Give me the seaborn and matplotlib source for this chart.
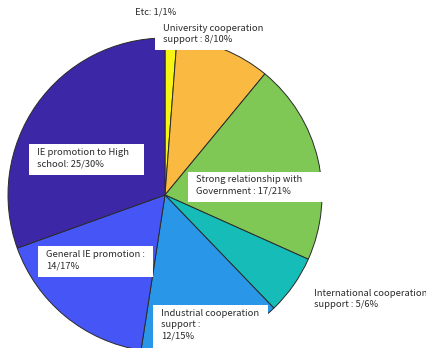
import matplotlib
matplotlib.use("Agg")
import matplotlib.pyplot as plt
import matplotlib.patches as mpatches
import seaborn as sns

# Survey responses: count and share per category, clockwise from 12 o'clock
categories = [
    "Etc",
    "University cooperation support",
    "Strong relationship with Government",
    "International cooperation support",
    "Industrial cooperation support",
    "General IE promotion",
    "IE promotion to High school",
]
counts = [1, 8, 17, 5, 12, 14, 25]
percents = [1, 10, 21, 6, 15, 17, 30]
slice_colors = ["#f6f514", "#fab941", "#80c855", "#16bdb8",
                "#2a96e8", "#4655f5", "#3c28a6"]

sns.set_style("white")
plt.rcParams["font.family"] = ["Noto Sans CJK KR", "DejaVu Sans"]

W, H = 427, 348
fig = plt.figure(figsize=(W / 100, H / 100), dpi=100)
ax = fig.add_axes([0, 0, 1, 1])

# pie geometry in pixels (centre, radius); the lower rim falls outside the canvas
cx, cy, r = 165, 195, 157
ax.pie(counts, colors=slice_colors, startangle=90, counterclock=False,
       radius=1, center=(0, 0),
       wedgeprops=dict(edgecolor="#2a2a2a", linewidth=0.7))
ax.set_xlim(-cx / r, (W - cx) / r)
ax.set_ylim(-(H - cy) / r, cy / r)
ax.set_aspect("auto")
ax.axis("off")


def fx(px):
    return px / W


def fy(py):
    return 1 - py / H


def label(text, x, y, box=None):
    """Place a label with its top-left corner at pixel (x, y);
    box = (left, top, right, bottom) in pixels for a white backing panel."""
    if box is not None:
        l, t, rgt, b = box
        fig.patches.append(mpatches.Rectangle(
            (fx(l), fy(b)), fx(rgt) - fx(l), fy(t) - fy(b),
            transform=fig.transFigure, facecolor="white",
            edgecolor="none", zorder=3))
    fig.text(fx(x), fy(y), text, ha="left", va="top", fontsize=6.75,
             color="#2b2b2b", linespacing=1.3, zorder=4)


def tag(i):
    return f"{counts[i]}/{percents[i]}%"


label(f"Etc: {tag(0)}", 135, 8)
label(f"University cooperation\nsupport : {tag(1)}", 163, 24,
      box=(155, 18, 270, 50))
label(f"IE promotion to High\nschool: {tag(6)}", 37, 148,
      box=(29, 144, 144, 175))
label(f"Strong relationship with\nGovernment : {tag(2)}", 196, 175,
      box=(188, 172, 323, 202))
label(f"General IE promotion :\n{tag(5)}", 46, 250,
      box=(38, 246, 153, 277))
label(f"International cooperation\nsupport : {tag(3)}", 314, 289)
label(f"Industrial cooperation\nsupport :\n{tag(4)}", 161, 309,
      box=(153, 305, 268, 352))

fig.savefig("out.png", dpi=100)
